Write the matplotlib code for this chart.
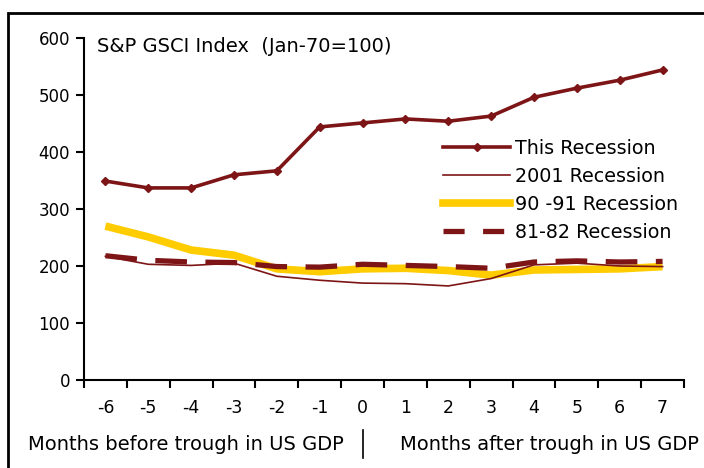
import matplotlib
matplotlib.use("Agg")
import matplotlib.pyplot as plt
from matplotlib.patches import Rectangle
from matplotlib.lines import Line2D

plt.rcParams["axes.unicode_minus"] = False

# months relative to the trough in US GDP
months = [-6, -5, -4, -3, -2, -1, 0, 1, 2, 3, 4, 5, 6, 7]

# S&P GSCI index values per recession
this_rec = [349, 337, 337, 360, 367, 444, 451, 458, 454, 463, 496, 512, 526, 544]
rec_2001 = [217, 203, 201, 205, 182, 175, 170, 169, 165, 178, 202, 205, 200, 199]
rec_9091 = [270, 251, 228, 219, 195, 190, 195, 196, 192, 184, 193, 194, 195, 199]
rec_8182 = [218, 210, 207, 206, 199, 198, 203, 201, 199, 196, 207, 209, 207, 208]

labels = ["This Recession", "2001 Recession", "90 -91 Recession", "81-82 Recession"]
yticks = [0, 100, 200, 300, 400, 500, 600]

red = "#7d1517"
yellow = "#ffcc00"

fig = plt.figure(figsize=(7.04, 4.68), dpi=100)
ax = fig.add_axes([84 / 704, 1 - 380 / 468, 600 / 704, 342 / 468])

ax.plot(months, rec_9091, color=yellow, lw=5.5, solid_capstyle="butt", zorder=2)
ax.plot(months, rec_2001, color=red, lw=1.2, zorder=3)
ax.plot(months, rec_8182, color=red, lw=3.8, dashes=(6, 3.5), zorder=4)
ax.plot(months, this_rec, color=red, lw=2.6, marker="D", ms=4.5, zorder=5)

ax.set_xlim(-6.5, 7.5)
ax.set_ylim(0, 600)
ax.set_yticks(yticks)
ax.set_xticks(months)
ax.set_xticks([m + 0.5 for m in [-7] + months], minor=True)
ax.tick_params(axis="x", which="major", length=0, labelsize=12.5, pad=14)
ax.tick_params(axis="x", which="minor", length=6, width=1.5, direction="out")
ax.tick_params(axis="y", length=6, width=1.5, labelsize=12, pad=4)
for s in ["top", "right"]:
    ax.spines[s].set_visible(False)
for s in ["left", "bottom"]:
    ax.spines[s].set_linewidth(1.5)

ax.text(97 / 704, 1 - 47 / 468, "S&P GSCI Index  (Jan-70=100)", transform=fig.transFigure,
        fontsize=14, va="center", ha="left")

handles = [
    Line2D([], [], color=red, lw=2.6, marker="D", ms=4.5),
    Line2D([], [], color=red, lw=1.2),
    Line2D([], [], color=yellow, lw=5.5),
    Line2D([], [], color=red, lw=3.8, dashes=(4, 3.5)),
]
ax.legend(handles, labels, loc="upper left", bbox_to_anchor=(443 / 704, 1 - 139 / 468),
          bbox_transform=fig.transFigure, frameon=False, fontsize=13.8,
          handlelength=3.5, handletextpad=0.25, labelspacing=0.47, borderpad=0,
          borderaxespad=0)

# captions under the axis
fig.text(186 / 704, 1 - 445 / 468, "Months before trough in US GDP", fontsize=14,
         ha="center", va="center")
fig.text(549 / 704, 1 - 445 / 468, "Months after trough in US GDP", fontsize=14,
         ha="center", va="center")
fig.add_artist(Line2D([363 / 704, 363 / 704], [1 - 430 / 468, 1 - 458 / 468],
                      color="black", lw=1.2, transform=fig.transFigure))

# outer frame
fig.add_artist(Rectangle((8 / 704, -0.1), 2, 1 - 13 / 468 + 0.1, transform=fig.transFigure,
                         fill=False, ec="black", lw=2))

fig.savefig("out.png", dpi=100)
